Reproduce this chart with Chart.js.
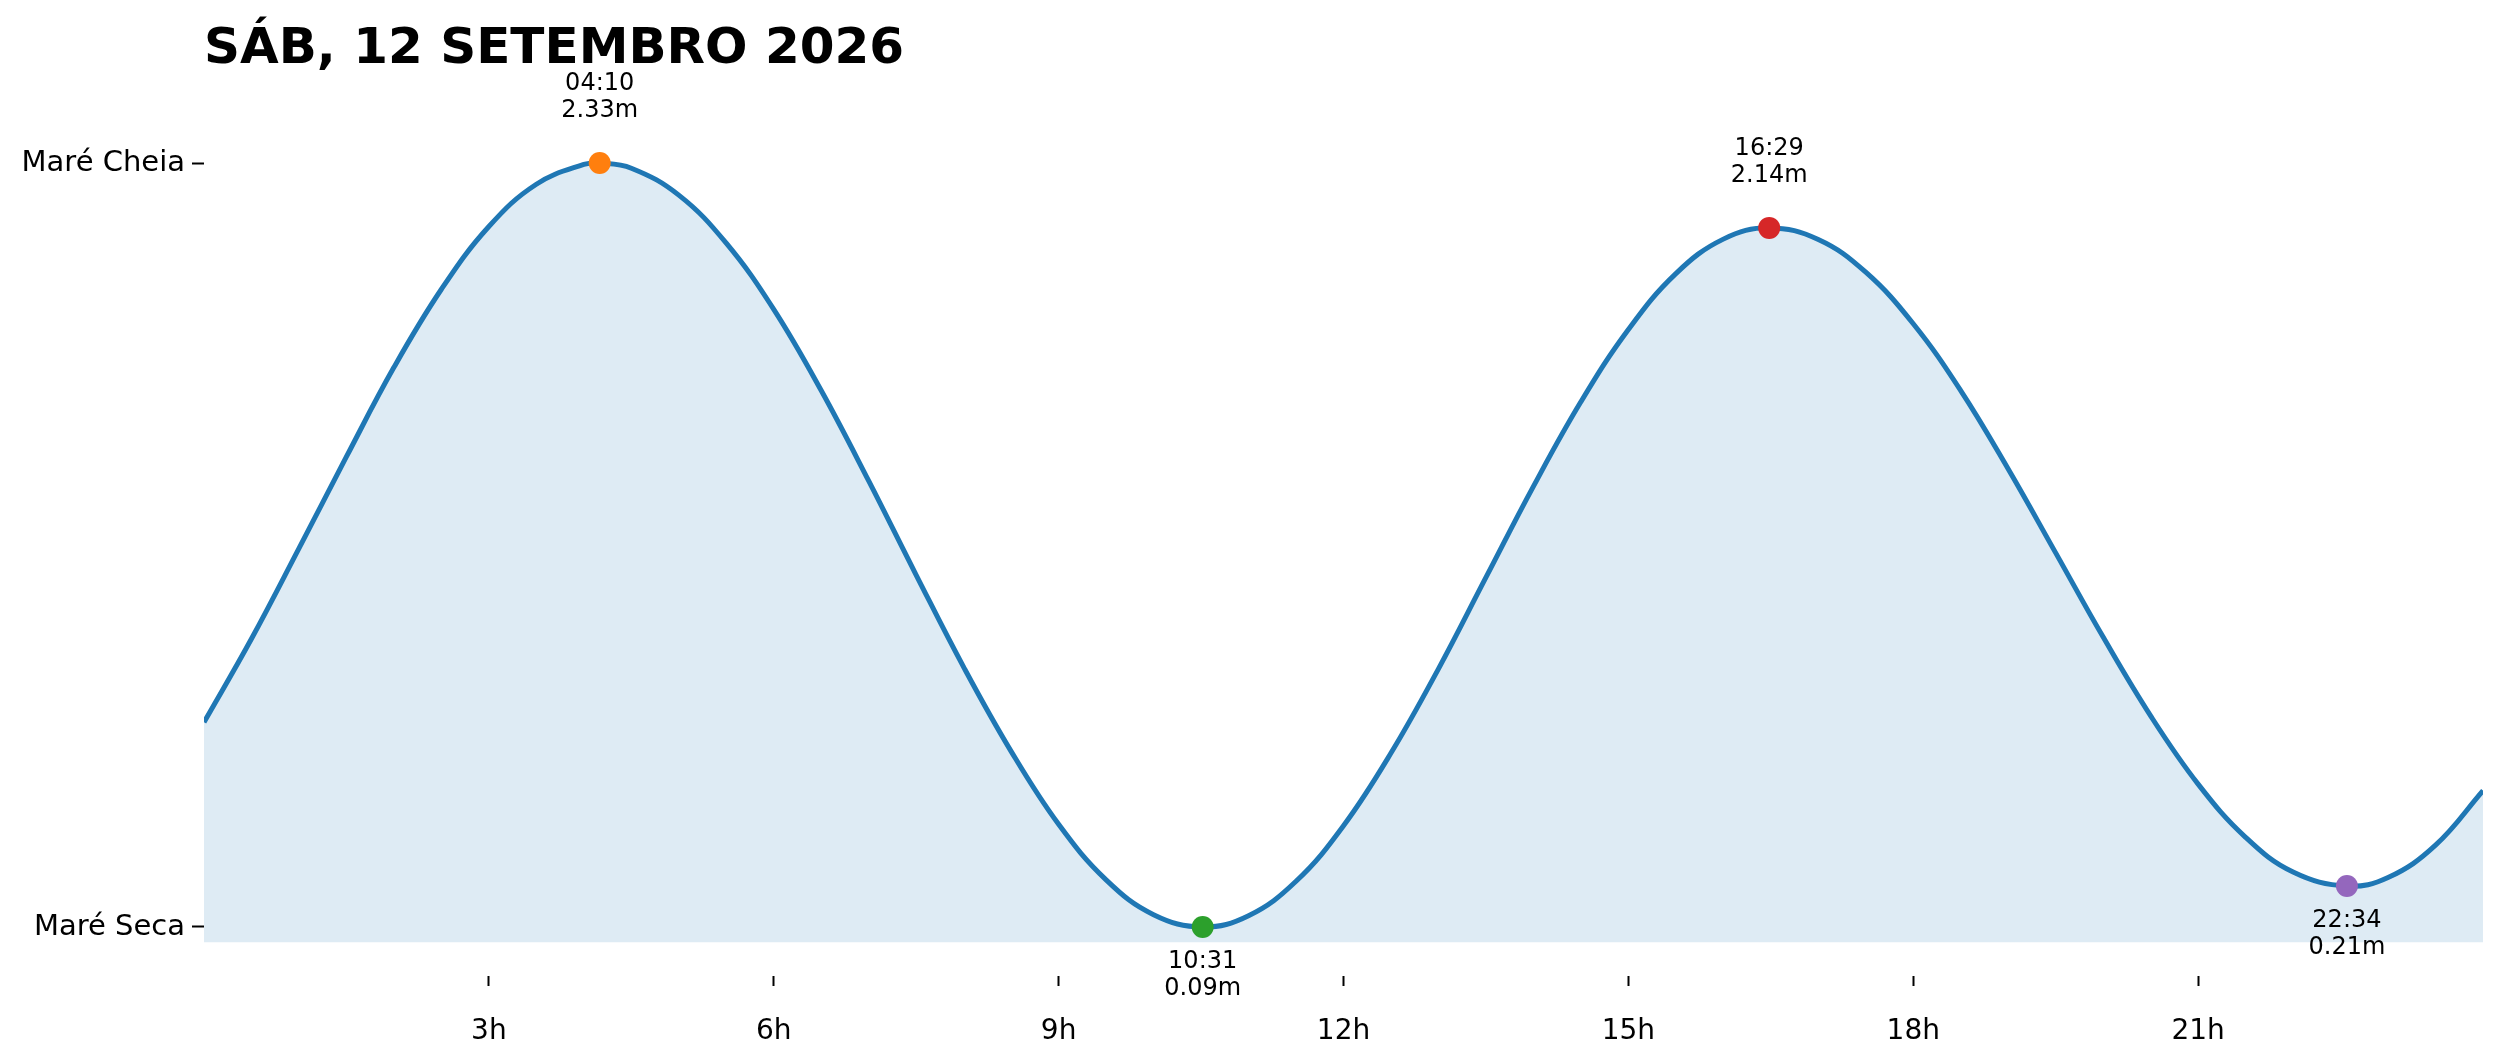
<!DOCTYPE html>
<html>
<head>
<meta charset="utf-8">
<script src="https://cdn.jsdelivr.net/npm/chart.js@4/dist/chart.umd.min.js"></script>
<style>
  body { margin: 0; background: #fff; }
  #tideChart { display: block; }
</style>
</head>
<body>
<canvas id="tideChart" width="2501" height="1062"></canvas>
<script>
const titleText = 'SÁB, 12 SETEMBRO 2026';

// tide curve every half hour (hour of day, metres)
const hours = [0, 0.5, 1, 1.5, 2, 2.5, 3, 3.5, 4, 4.167, 4.5, 5, 5.5, 6, 6.5, 7, 7.5, 8, 8.5, 9, 9.5, 10, 10.517,
  11, 11.5, 12, 12.5, 13, 13.5, 14, 14.5, 15, 15.5, 16, 16.483, 17, 17.5, 18, 18.5, 19, 19.5, 20, 20.5, 21, 21.5, 22, 22.567, 23, 23.5, 24];
const tideHeights = [0.690, 0.935, 1.200, 1.469, 1.731, 1.960, 2.144, 2.268, 2.326, 2.330,
  2.315, 2.236, 2.095, 1.901, 1.663, 1.398, 1.122, 0.852, 0.605, 0.391, 0.228, 0.126, 0.090,
  0.123, 0.224, 0.387, 0.600, 0.847, 1.115, 1.382, 1.630, 1.842, 2.006, 2.107, 2.140,
  2.106, 2.010, 1.859, 1.663, 1.433, 1.187, 0.940, 0.709, 0.509, 0.353, 0.251, 0.210,
  0.235, 0.330, 0.490];

// high / low tides
const extremeHours = [4.167, 10.517, 16.483, 22.567];
const extremeHeights = [2.33, 0.09, 2.14, 0.21];
const extremeTimes = ['04:10', '10:31', '16:29', '22:34'];
const extremeIsHigh = [true, false, true, false];
const extremeColors = ['#ff7f0e', '#2ca02c', '#d62728', '#9467bd'];

const xTickValues = [3, 6, 9, 12, 15, 18, 21];
const xTickLabels = ['3h', '6h', '9h', '12h', '15h', '18h', '21h'];
const yTickValues = [0.09, 2.33];
const yTickLabels = ['Maré Seca', 'Maré Cheia'];

const FONT = "'DejaVu Sans', sans-serif";

const labelPlugin = {
  id: 'tideLabels',
  afterDraw(chart) {
    const ctx = chart.ctx;
    const xs = chart.scales.x, ys = chart.scales.y;
    ctx.save();
    // title
    ctx.fillStyle = '#000';
    ctx.font = 'bold 50px ' + FONT;
    ctx.textAlign = 'left';
    ctx.textBaseline = 'alphabetic';
    ctx.fillText(titleText, chart.chartArea.left, 63);
    // extreme annotations
    ctx.font = '24px ' + FONT;
    ctx.textAlign = 'center';
    extremeHours.forEach((h, i) => {
      const px = xs.getPixelForValue(h);
      const py = ys.getPixelForValue(extremeHeights[i]);
      const l1 = extremeTimes[i];
      const l2 = extremeHeights[i].toFixed(2) + 'm';
      if (extremeIsHigh[i]) {
        ctx.fillText(l1, px, py - 73);
        ctx.fillText(l2, px, py - 46);
      } else {
        ctx.fillText(l1, px, py + 41);
        ctx.fillText(l2, px, py + 68);
      }
    });
    ctx.restore();
  }
};

new Chart(document.getElementById('tideChart'), {
  type: 'line',
  data: {
    datasets: [
      {
        label: 'extremos',
        data: extremeHours.map((h, i) => ({ x: h, y: extremeHeights[i] })),
        showLine: false,
        pointRadius: 11,
        pointHoverRadius: 11,
        pointBorderWidth: 0,
        pointBackgroundColor: extremeColors,
        order: 0
      },
      {
        label: 'maré',
        data: hours.map((h, i) => ({ x: h, y: tideHeights[i] })),
        borderColor: '#1f77b4',
        borderWidth: 5,
        backgroundColor: 'rgba(31,119,180,0.15)',
        fill: { value: 0.045 },
        pointRadius: 0,
        tension: 0.4,
        order: 1
      }
    ]
  },
  options: {
    responsive: false,
    devicePixelRatio: 1,
    animation: false,
    layout: { padding: { top: 71, right: 18, left: 0, bottom: 0 } },
    plugins: {
      legend: { display: false },
      tooltip: { enabled: false },
      title: { display: false }
    },
    scales: {
      x: {
        type: 'linear',
        min: 0,
        max: 24,
        afterBuildTicks: (s) => { s.ticks = xTickValues.map(v => ({ value: v })); },
        afterFit: (s) => { s.height = 86; },
        border: { display: false },
        grid: { drawOnChartArea: false, drawTicks: true, tickLength: 10, tickWidth: 2, tickColor: '#000' },
        ticks: {
          autoSkip: false,
          maxRotation: 0,
          padding: 29,
          color: '#000',
          font: { family: FONT, size: 28 },
          callback: (v) => xTickLabels[xTickValues.indexOf(v)]
        }
      },
      y: {
        min: -0.0537,
        max: 2.6,
        afterBuildTicks: (s) => { s.ticks = yTickValues.map(v => ({ value: v })); },
        afterFit: (s) => { s.width = 204; },
        border: { display: false },
        grid: { drawOnChartArea: false, drawTicks: true, tickLength: 12, tickWidth: 2, tickColor: '#000' },
        ticks: {
          autoSkip: false,
          padding: 7,
          color: '#000',
          font: { family: FONT, size: 29 },
          callback: (v) => yTickLabels[yTickValues.indexOf(v)]
        }
      }
    }
  },
  plugins: [labelPlugin]
});
</script>
</body>
</html>
